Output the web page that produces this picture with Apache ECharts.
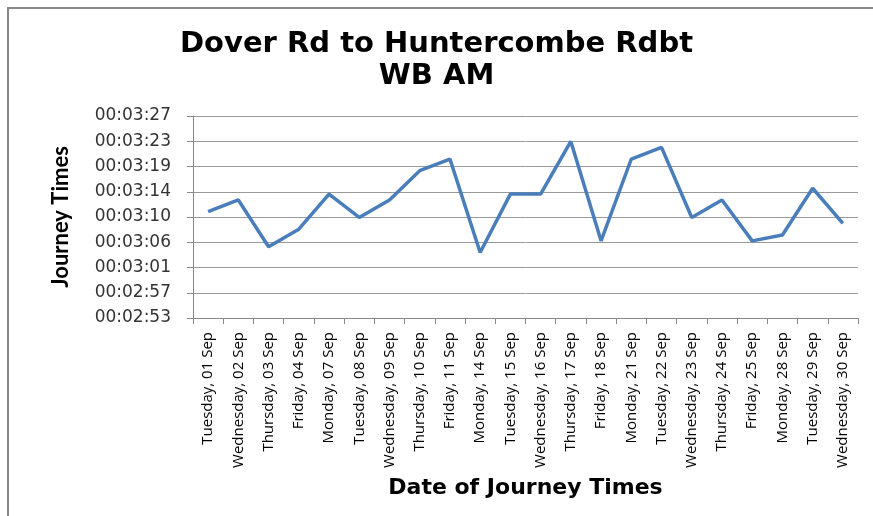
<!DOCTYPE html>
<html>
<head>
<meta charset="utf-8">
<script src="https://cdn.jsdelivr.net/npm/echarts@6/dist/echarts.min.js"></script>
<style>html,body{margin:0;padding:0;background:#fff}#c{width:873px;height:516px}</style>
</head>
<body>
<div id="c"></div>
<script>
const categories = ["Tuesday, 01 Sep","Wednesday, 02 Sep","Thursday, 03 Sep","Friday, 04 Sep","Monday, 07 Sep","Tuesday, 08 Sep","Wednesday, 09 Sep","Thursday, 10 Sep","Friday, 11 Sep","Monday, 14 Sep","Tuesday, 15 Sep","Wednesday, 16 Sep","Thursday, 17 Sep","Friday, 18 Sep","Monday, 21 Sep","Tuesday, 22 Sep","Wednesday, 23 Sep","Thursday, 24 Sep","Friday, 25 Sep","Monday, 28 Sep","Tuesday, 29 Sep","Wednesday, 30 Sep"];
// journey times in seconds
const journeySeconds = [191,193,185,188,194,190,193,198,200,184,194,194,203,186,200,202,190,193,186,187,195,189];
// axis in seconds: Excel steps of 0.00005 day = 4.32 s
const yMin = 172.8, yMax = 207.36, yInterval = 4.32;

function fmt(v){
  const s = Math.round(v);
  const h = Math.floor(s/3600), m = Math.floor((s%3600)/60), sec = s%60;
  const p = n => String(n).padStart(2,'0');
  return p(h)+':'+p(m)+':'+p(sec);
}

const chart = echarts.init(document.getElementById('c'));
chart.setOption({
  animation:false,
  backgroundColor:'#fff',
  title:{
    text:'Dover Rd to Huntercombe Rdbt\nWB AM',
    left:'center', top:23, itemGap:0,
    textStyle:{fontFamily:'DejaVu Sans', fontWeight:'bold', fontSize:29, lineHeight:32, color:'#000'}
  },
  graphic:[{type:'rect', shape:{x:8,y:8,width:900,height:600}, style:{fill:null, stroke:'#888', lineWidth:2}, silent:true}],
  grid:{left:193, right:15, top:116, bottom:198},
  xAxis:{
    type:'category', data:categories, boundaryGap:true,
    name:'Date of Journey Times', nameLocation:'middle', nameGap:159,
    nameTextStyle:{fontFamily:'DejaVu Sans', fontWeight:'bold', fontSize:22, color:'#000'},
    axisLine:{lineStyle:{color:'#888', width:1}},
    axisTick:{show:true, length:6, alignWithLabel:false, lineStyle:{color:'#888'}},
    axisLabel:{rotate:90, interval:0, fontFamily:'Open Sans', fontSize:15, color:'#000', margin:14}
  },
  yAxis:{
    type:'value', min:yMin, max:yMax, interval:yInterval,
    name:'Journey Times', nameLocation:'middle', nameGap:121,
    nameTextStyle:{fontFamily:'Lato', fontWeight:'bold', fontSize:22, color:'#000'},
    axisLine:{show:true, lineStyle:{color:'#888', width:1}},
    axisTick:{show:true, length:6, lineStyle:{color:'#888'}},
    splitLine:{lineStyle:{color:'#999', width:1}},
    axisLabel:{formatter:fmt, fontFamily:'DejaVu Sans', fontSize:17, color:'#333', margin:22}
  },
  series:[{
    type:'line', data:journeySeconds, showSymbol:false, symbol:'none',
    lineStyle:{color:'#4A7EBB', width:3.5}
  }]
});
</script>
</body>
</html>
